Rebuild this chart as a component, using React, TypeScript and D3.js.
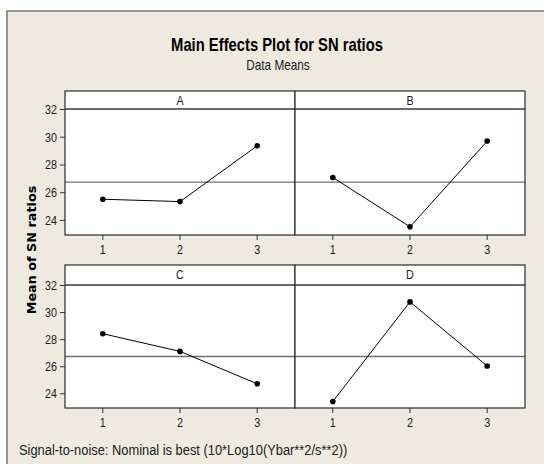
import React from "react";
import * as d3 from "d3";

const factors = ["A", "B", "C", "D"];
const levels = [1, 2, 3];
const meanA = [25.53, 25.36, 29.38];
const meanB = [27.1, 23.54, 29.72];
const meanC = [28.44, 27.13, 24.74];
const meanD = [23.43, 30.79, 26.05];
const seriesValues = [meanA, meanB, meanC, meanD];
const grandMean = 26.76;
const yTicks = [24, 26, 28, 30, 32];

const W = 544;
const H = 464;
const FONT = "'Liberation Sans', Arial, sans-serif";

type NTextProps = {
  x: number;
  y: number;
  sx?: number;
  size: number;
  anchor?: "start" | "middle" | "end";
  bold?: boolean;
  fill?: string;
  children: React.ReactNode;
};

function NText({ x, y, sx = 0.83, size, anchor = "start", bold = false, fill = "#1a1a1a", children }: NTextProps) {
  return (
    <text
      transform={`translate(${x},${y}) scale(${sx},1)`}
      textAnchor={anchor}
      fontFamily={FONT}
      fontSize={size}
      fontWeight={bold ? "bold" : "normal"}
      fill={fill}
    >
      {children}
    </text>
  );
}

export default function App() {
  const colX = [
    [65, 295],
    [295, 525],
  ];
  const rowY = [
    [91, 109, 235],
    [265, 285, 408],
  ];

  const panels = factors.map((f, i) => {
    const col = i % 2;
    const row = Math.floor(i / 2);
    const [x0, x1] = colX[col];
    const [top, stripBottom, bottom] = rowY[row];
    const x = d3.scaleLinear().domain([0.51, 3.49]).range([x0, x1]);
    const y = d3
      .scaleLinear()
      .domain([22.95, 32])
      .range([bottom, stripBottom + 0.5]);
    const vals = seriesValues[i];
    const line = d3
      .line<number>()
      .x((_, j) => x(levels[j]))
      .y((d) => y(d));
    return (
      <g key={f}>
        <rect x={x0} y={top} width={x1 - x0} height={bottom - top} fill="#fff" />
        <line x1={x0} x2={x1} y1={y(grandMean)} y2={y(grandMean)} stroke="#6e6e6e" strokeWidth={1.4} />
        <path d={line(vals) || ""} fill="none" stroke="#000" strokeWidth={1} />
        {vals.map((v, j) => (
          <circle key={j} cx={x(levels[j])} cy={y(v)} r={2.8} fill="#000" />
        ))}
        <line x1={x0} x2={x1} y1={stripBottom} y2={stripBottom} stroke="#3a3a3a" strokeWidth={1.5} />
        <NText x={(x0 + x1) / 2} y={top + 14} anchor="middle" size={13}>
          {f}
        </NText>
        <rect x={x0} y={top} width={x1 - x0} height={bottom - top} fill="none" stroke="#2a2a2a" strokeWidth={1.2} />
        {levels.map((l) => (
          <g key={l}>
            <line x1={x(l)} x2={x(l)} y1={bottom} y2={bottom + 5} stroke="#333" />
            <NText x={x(l)} y={bottom + 19} anchor="middle" size={13}>
              {l}
            </NText>
          </g>
        ))}
        {col === 0 &&
          yTicks.map((t) => (
            <g key={t}>
              <line x1={x0 - 5} x2={x0} y1={y(t)} y2={y(t)} stroke="#333" />
              <NText x={x0 - 8} y={y(t) + 4.5} anchor="end" size={13}>
                {t}
              </NText>
            </g>
          ))}
      </g>
    );
  });

  return (
    <svg width={W} height={H} style={{ position: "absolute", left: 0, top: 0 }}>
      <rect x={0} y={0} width={W} height={H} fill="#fff" />
      <rect x={7} y={11} width={W} height={H} fill="#eeeae0" stroke="#555" strokeWidth={1.2} />
      <NText x={277} y={51} anchor="middle" size={17.5} sx={0.845} bold fill="#000">
        Main Effects Plot for SN ratios
      </NText>
      <NText x={278} y={70} anchor="middle" size={14} sx={0.84}>
        Data Means
      </NText>
      <text
        transform="translate(36,250) rotate(-90)"
        textAnchor="middle"
        fontFamily="'DejaVu Sans', sans-serif"
        fontWeight="bold"
        fontSize={12.8}
        fill="#000"
      >
        Mean of SN ratios
      </text>
      {panels}
      <NText x={19} y={455} size={14} sx={0.92}>
        Signal-to-noise: Nominal is best (10*Log10(Ybar**2/s**2))
      </NText>
    </svg>
  );
}
